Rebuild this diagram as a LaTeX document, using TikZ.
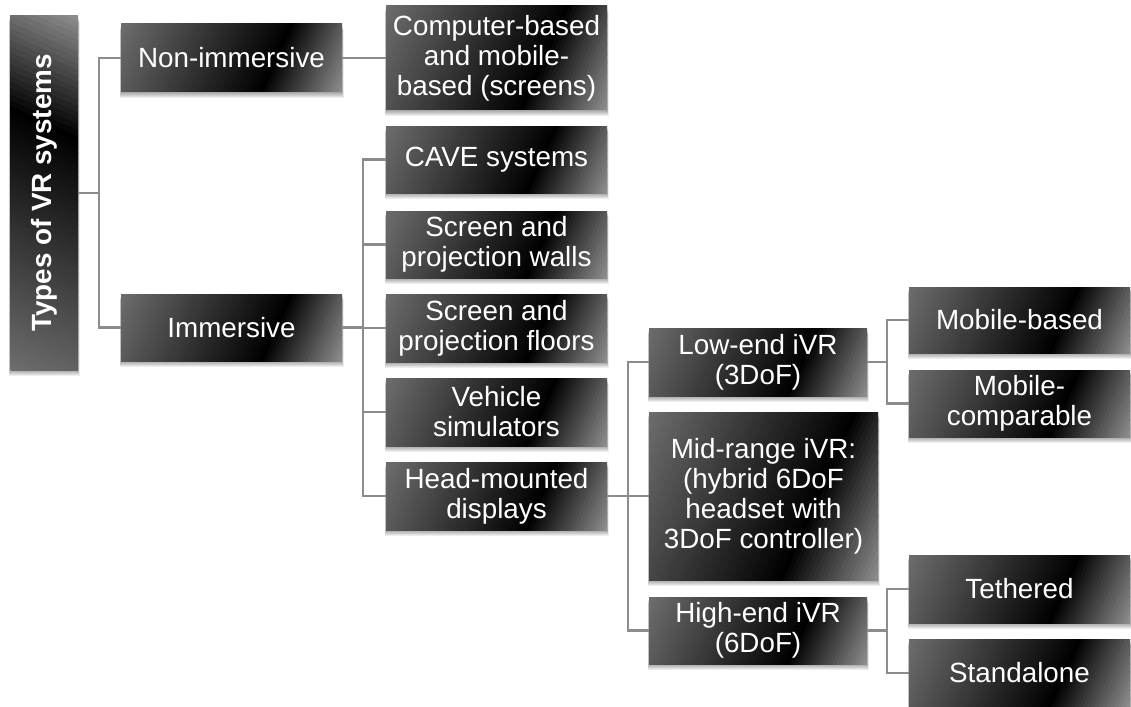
\documentclass[tikz,border=0pt]{standalone}
\usepackage{fontspec}
\setmainfont{Liberation Sans}
\definecolor{linkgray}{HTML}{8C8C8C}

\pgfdeclarelayer{shadowlayer}
\pgfdeclarelayer{gradlayer}
\pgfsetlayers{shadowlayer,gradlayer,main}

\tikzset{
  boxsize/.style 2 args={minimum width=#1pt, minimum height=#2pt},
  darkbox/.style={
    inner sep=0pt, text=white, align=center,
    font=\fontsize{27.8}{30}\selectfont,
  },
  link/.style={draw=linkgray, line width=2.2pt},
}

% Paint a box: soft shadow, then a grey-black-grey linear gradient
% running along the unit direction (#4,#5) (x right, y down), as strips.
% #1 node name, #2 width, #3 height
\newcommand\darkfill[5]{%
  \begin{pgfonlayer}{shadowlayer}
    \begin{scope}[shift={(#1.center)}]
      \foreach \k in {1,...,6}
        \fill[black, fill opacity=0.065]
          ({-#2/2-0.25*\k},{-#3/2+\k}) rectangle ({#2/2+0.25*\k},{#3/2+\k});
    \end{scope}
  \end{pgfonlayer}
  \begin{pgfonlayer}{gradlayer}
    \begin{scope}[shift={(#1.center)}]
      \clip ({-#2/2},{-#3/2}) rectangle ({#2/2},{#3/2});
      \pgfmathsetmacro\gP{abs(#2/2*#4)+abs(#3/2*#5)}%
      \pgfmathsetmacro\gQ{abs(#2/2*#5)+abs(#3/2*#4)+2}%
      \pgfmathsetmacro\gS{\gP/32}%
      \foreach \i in {0,...,63} {
        \pgfmathsetmacro\gt{(\i+0.5)/64}%
        \pgfmathsetmacro\gv{\gt<0.68 ? 0.43*(1-\gt/0.68) : 0.56*(\gt-0.68)/0.32}%
        \pgfmathsetmacro\ga{-\gP+\gS*\i}%
        \pgfmathsetmacro\gb{\ga+\gS+0.6}%
        \definecolor{stripe}{gray}{\gv}%
        \fill[stripe]
          ({\ga*#4+\gQ*#5},{\ga*#5-\gQ*#4}) --
          ({\gb*#4+\gQ*#5},{\gb*#5-\gQ*#4}) --
          ({\gb*#4-\gQ*#5},{\gb*#5+\gQ*#4}) --
          ({\ga*#4-\gQ*#5},{\ga*#5+\gQ*#4}) -- cycle;
      }
    \end{scope}
  \end{pgfonlayer}
}

\begin{document}
\begin{tikzpicture}[x=1pt, y=-1pt]
\useasboundingbox (0,0) rectangle (1131,706);

% level 0
\node[darkbox, boxsize={68}{354}] (root) at (44,193)
  {\rotatebox{90}{\bfseries Types of VR systems}};

% level 1
\node[darkbox, boxsize={221}{68}] (nonimm) at (231.5,58) {Non-immersive};
\node[darkbox, boxsize={221}{67}] (imm) at (231.5,327.5) {Immersive};

% level 2
\node[darkbox, boxsize={221}{104}] (comp) at (496.5,58)
  {Computer-based\\and mobile-\\based (screens)};
\node[darkbox, boxsize={221}{67}] (cave) at (496.5,159.5) {CAVE systems};
\node[darkbox, boxsize={221}{67}] (walls) at (496.5,244.5)
  {Screen and\\projection walls};
\node[darkbox, boxsize={221}{68}] (floors) at (496.5,328)
  {Screen and\\projection floors};
\node[darkbox, boxsize={221}{68}] (vehicle) at (496.5,412)
  {Vehicle\\simulators};
\node[darkbox, boxsize={221}{68}] (hmd) at (496.5,496)
  {Head-mounted\\displays};

% level 3
\node[darkbox, boxsize={218}{68}] (low) at (758,362)
  {Low-end iVR\\(3DoF)};
\node[darkbox, boxsize={229}{168}] (mid) at (763.5,496)
  {Mid-range iVR:\\(hybrid 6DoF\\headset with\\3DoF controller)};
\node[darkbox, boxsize={218}{67}] (high) at (758,630.5)
  {High-end iVR\\(6DoF)};

% level 4
\node[darkbox, boxsize={221}{66}] (mobb) at (1019.5,320) {Mobile-based};
\node[darkbox, boxsize={221}{67}] (mobc) at (1019.5,403.5)
  {Mobile-\\comparable};
\node[darkbox, boxsize={221}{68}] (teth) at (1019.5,589) {Tethered};
\node[darkbox, boxsize={221}{68}] (stand) at (1019.5,673) {Standalone};

% box fills
\darkfill{root}{68}{354}{0.4067}{-0.9135}
\darkfill{nonimm}{221}{68}{0.9135}{0.4067}
\darkfill{imm}{221}{67}{0.9135}{0.4067}
\darkfill{comp}{221}{104}{0.9135}{0.4067}
\darkfill{cave}{221}{67}{0.9135}{0.4067}
\darkfill{walls}{221}{67}{0.9135}{0.4067}
\darkfill{floors}{221}{68}{0.9135}{0.4067}
\darkfill{vehicle}{221}{68}{0.9135}{0.4067}
\darkfill{hmd}{221}{68}{0.9135}{0.4067}
\darkfill{low}{218}{68}{0.9135}{0.4067}
\darkfill{mid}{229}{168}{0.9135}{0.4067}
\darkfill{high}{218}{67}{0.9135}{0.4067}
\darkfill{mobb}{221}{66}{0.9135}{0.4067}
\darkfill{mobc}{221}{67}{0.9135}{0.4067}
\darkfill{teth}{221}{68}{0.9135}{0.4067}
\darkfill{stand}{221}{68}{0.9135}{0.4067}

% connectors
\draw[link] (root.east) -- ++(21,0) |- (nonimm.west);
\draw[link] (root.east) -- ++(21,0) |- (imm.west);
\draw[link] (nonimm.east) -- (comp.west);
\foreach \kid in {cave,walls,floors,vehicle,hmd}
  \draw[link] (imm.east) -- ++(21,0) |- (\kid.west);
\draw[link] (hmd.east) -- (mid.west);
\draw[link] (hmd.east) -- ++(21,0) |- (low.west);
\draw[link] (hmd.east) -- ++(21,0) |- (high.west);
\draw[link] (low.east) -- ++(20,0) |- (mobb.west);
\draw[link] (low.east) -- ++(20,0) |- (mobc.west);
\draw[link] (high.east) -- ++(20,0) |- (teth.west);
\draw[link] (high.east) -- ++(20,0) |- (stand.west);
\end{tikzpicture}
\end{document}
